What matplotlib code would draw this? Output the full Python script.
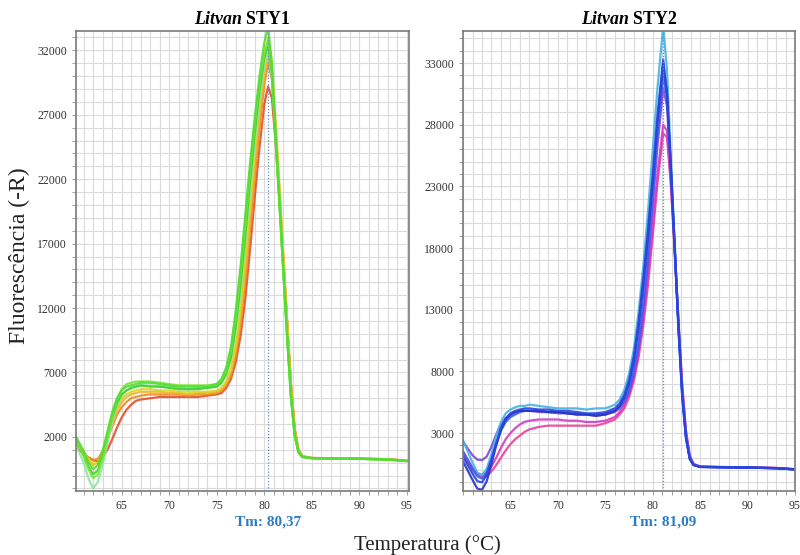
import matplotlib
matplotlib.use("Agg")
import matplotlib.pyplot as plt
from matplotlib.ticker import MultipleLocator, FixedLocator

plt.rcParams['font.family'] = ['Liberation Serif', 'DejaVu Serif']
plt.rcParams['mathtext.fontset'] = 'custom'
plt.rcParams['mathtext.bfit'] = 'Liberation Serif:italic:bold'
plt.rcParams['mathtext.it'] = 'Liberation Serif:italic'
plt.rcParams['mathtext.rm'] = 'Liberation Serif'

# ---- STY1 melt curves (temperature in C, fluorescence -R) ----
temps_sty1 = [60, 61, 61.5, 62, 62.5, 63, 63.5, 64, 64.5, 65, 65.5, 66, 66.5, 67, 68, 69, 70, 71, 72, 73,
              74, 75, 75.5, 76, 76.5, 77, 77.5, 78, 78.5, 79, 79.5, 80, 80.4, 80.8, 81.2, 81.6, 82, 82.4, 82.8, 83.2,
              83.6, 84, 85, 87, 90, 93, 95]

sty1_red = [1300, 700, 400, 200, 100, 400, 1000, 1800, 2700, 3500, 4100, 4500, 4800, 4900, 5000, 5100, 5100, 5100, 5100, 5100,
            5200, 5300, 5400, 5800, 6500, 7800, 9800, 12700, 16500, 20600, 24500, 27800, 29200, 28300, 24800, 20400, 15800, 11000, 6200, 2700,
            1000, 500, 370, 340, 310, 270, 150]
sty1_orange = [1600, 800, 400, 200, 300, 900, 1800, 2800, 3700, 4300, 4700, 5000, 5100, 5200, 5300, 5300, 5300, 5300, 5200, 5300,
               5300, 5400, 5600, 6000, 6800, 8300, 10700, 14000, 18000, 22200, 26000, 29300, 31000, 29800, 25800, 21000, 16000, 11000, 6000, 2500,
               900, 480, 360, 330, 310, 270, 150]
sty1_amber = [1800, 700, 100, -200, 0, 700, 1800, 3000, 4000, 4700, 5100, 5300, 5400, 5500, 5500, 5500, 5400, 5400, 5300, 5400,
              5400, 5500, 5700, 6200, 7100, 8800, 11400, 15000, 19000, 23200, 27000, 30100, 31600, 30000, 25800, 21000, 16000, 10900, 5900, 2400,
              900, 470, 360, 330, 300, 260, 140]
sty1_yellow = [1900, 900, 300, -100, 0, 800, 2000, 3300, 4300, 5000, 5300, 5500, 5600, 5700, 5700, 5600, 5600, 5500, 5500, 5500,
               5500, 5600, 5800, 6300, 7300, 9200, 12000, 15800, 20000, 24200, 28000, 31300, 33000, 31200, 26500, 21500, 16200, 11000, 6000, 2500,
               900, 480, 360, 330, 300, 260, 140]
sty1_pale = [1700, 0, -1200, -2000, -1500, -200, 1500, 3200, 4400, 5200, 5600, 5800, 5900, 6000, 6000, 5900, 5900, 5800, 5700, 5800,
             5800, 5900, 6200, 6800, 8000, 10200, 13200, 17000, 21000, 24800, 28200, 30800, 32100, 30000, 25000, 20000, 14800, 9800, 5200, 2100,
             800, 450, 350, 320, 300, 250, 130]
sty1_green = [2000, 600, -300, -900, -600, 500, 2000, 3500, 4600, 5300, 5600, 5800, 5900, 6000, 5900, 5900, 5800, 5700, 5700, 5700,
              5800, 5900, 6200, 6900, 8200, 10600, 13800, 17600, 21800, 25600, 28900, 31400, 32500, 30200, 25000, 20000, 14800, 9800, 5100, 2100,
              800, 450, 350, 320, 300, 240, 120]
sty1_lime = [2200, 500, -500, -1200, -900, 300, 1900, 3600, 4900, 5700, 6100, 6200, 6300, 6300, 6300, 6200, 6100, 6000, 6000, 6000,
             6000, 6100, 6400, 7200, 8700, 11300, 14600, 18500, 22600, 26300, 29500, 31800, 32800, 30400, 25200, 20200, 15000, 9900, 5200, 2100,
             800, 450, 350, 320, 300, 250, 120]
sty1_bright = [2300, 900, 0, -500, -200, 900, 2400, 3900, 5000, 5600, 5900, 6000, 6100, 6200, 6200, 6100, 6000, 5900, 5900, 5900,
               5900, 6100, 6500, 7400, 9000, 11800, 15200, 19200, 23200, 26800, 30000, 32600, 33800, 31000, 25500, 20500, 15200, 10000, 5300, 2200,
               800, 450, 350, 330, 300, 250, 130]

# ---- STY2 melt curves ----
temps_sty2 = [60, 61, 61.5, 62, 62.5, 63, 63.5, 64, 64.5, 65, 65.5, 66, 66.5, 67, 68, 69, 70, 71, 72, 73,
              74, 75, 76, 76.5, 77, 77.5, 78, 78.5, 79, 79.5, 80, 80.5, 81.1, 81.5, 81.9, 82.3, 82.7, 83.1, 83.5, 83.9,
              84.3, 85, 87, 90, 93, 95]

sty2_pink = [1200, 0, -400, -600, -500, -100, 400, 1000, 1600, 2100, 2500, 2800, 3100, 3300, 3500, 3600, 3600, 3600, 3600, 3600,
             3600, 3800, 4100, 4500, 5000, 5900, 7200, 9100, 11700, 15000, 19000, 23300, 27300, 27000, 23200, 17900, 12300, 7000, 3200, 1200,
             500, 290, 250, 220, 170, 70]
sty2_magenta = [1500, 200, -300, -400, -200, 300, 1000, 1800, 2500, 3000, 3400, 3700, 3900, 4000, 4100, 4100, 4100, 4000, 4000, 3900,
                3900, 4000, 4300, 4700, 5300, 6200, 7600, 9600, 12300, 15800, 19800, 24000, 28000, 27500, 23500, 18000, 12200, 6800, 3100, 1100,
                480, 280, 250, 220, 170, 70]
sty2_purple = [2300, 1200, 850, 800, 1100, 1900, 2900, 3700, 4200, 4500, 4700, 4800, 4800, 4800, 4700, 4700, 4600, 4600, 4500, 4500,
               4400, 4500, 4700, 5000, 5500, 6300, 7700, 9800, 12800, 16800, 21500, 26300, 31000, 29500, 24300, 18300, 12000, 6500, 2900, 1050,
               450, 270, 240, 210, 160, 60]
sty2_cyan = [2400, 600, -200, -400, 100, 1300, 2800, 3900, 4600, 4900, 5100, 5200, 5200, 5300, 5200, 5100, 5000, 5000, 5000, 4900,
             5000, 5000, 5300, 5700, 6500, 7800, 9800, 12800, 16500, 21000, 26000, 31000, 36000, 32500, 25500, 18500, 11800, 6200, 2700, 950,
             420, 260, 230, 200, 150, 60]
sty2_blue2 = [1500, 100, -500, -700, -200, 900, 2100, 3200, 3900, 4300, 4500, 4700, 4800, 4800, 4800, 4700, 4700, 4600, 4600, 4500,
              4500, 4600, 4800, 5100, 5600, 6500, 8000, 10300, 13500, 17500, 22200, 27200, 32000, 30200, 24800, 18500, 12000, 6400, 2800, 1000,
              450, 260, 230, 200, 150, 50]
sty2_blue3 = [700, -800, -1500, -1600, -900, 500, 2000, 3300, 4100, 4500, 4700, 4800, 4800, 4800, 4800, 4700, 4700, 4600, 4500, 4500,
              4400, 4500, 4800, 5200, 5900, 7000, 8800, 11500, 15000, 19000, 23500, 28300, 33000, 30600, 24700, 18200, 11700, 6100, 2600, 900,
              400, 250, 220, 200, 140, 50]
sty2_blue1 = [1100, -300, -900, -1000, -400, 800, 2200, 3400, 4200, 4600, 4800, 4900, 5000, 5000, 4900, 4900, 4800, 4800, 4700, 4600,
              4600, 4700, 5000, 5400, 6100, 7300, 9200, 12000, 15500, 19500, 24000, 28800, 33300, 30500, 24500, 18000, 11500, 6000, 2600, 900,
              400, 250, 230, 200, 150, 50]

sty1_curves = [(sty1_red, '#e4502a'), (sty1_orange, '#f08a22'), (sty1_amber, '#f2b22e'), (sty1_yellow, '#d9d522'),
               (sty1_pale, '#8fe6a8'), (sty1_green, '#3fcf2c'), (sty1_lime, '#7be43a'), (sty1_bright, '#52dc34')]
sty2_curves = [(sty2_pink, '#e8409a'), (sty2_magenta, '#d23cc4'), (sty2_purple, '#8246d6'), (sty2_cyan, '#45b4e2'),
               (sty2_blue2, '#3a62f0'), (sty2_blue3, '#2434c4'), (sty2_blue1, '#2c44e0')]

tm_values = [80.37, 81.09]
tm_labels = ['Tm: 80,37', 'Tm: 81,09']
titles = [r'$\mathbfit{Litvan}$ STY1', r'$\mathbfit{Litvan}$ STY2']
ylims = [(-2200, 33500), (-1700, 35600)]
ytick_sets = [[2000, 7000, 12000, 17000, 22000, 27000, 32000],
              [3000, 8000, 13000, 18000, 23000, 28000, 33000]]
xticks = [65, 70, 75, 80, 85, 90, 95]

fig = plt.figure(figsize=(8, 5.55), dpi=100)
ax1 = fig.add_axes([0.095, 0.1153, 0.416, 0.8288])
ax2 = fig.add_axes([0.5788, 0.1153, 0.415, 0.8288])

panels = [(ax1, temps_sty1, sty1_curves, (60.2, 95.2)), (ax2, temps_sty2, sty2_curves, (60.0, 95.0))]
for i, (ax, temps, curves, xl) in enumerate(panels):
    for vals, col in curves:
        ax.plot(temps, vals, color=col, lw=1.6, alpha=0.9, solid_joinstyle='round')
    ax.axvline(tm_values[i], color='#6a8cc8', lw=0.9, ls=(0, (1, 1.5)), zorder=3)
    ax.set_xlim(*xl)
    ax.set_ylim(*ylims[i])
    ax.xaxis.set_major_locator(FixedLocator(xticks))
    ax.yaxis.set_major_locator(FixedLocator(ytick_sets[i]))
    ax.xaxis.set_minor_locator(MultipleLocator(1))
    ax.yaxis.set_minor_locator(MultipleLocator(1000))
    ax.grid(True, which='both', color='#dadada', lw=0.8)
    ax.set_axisbelow(True)
    ax.tick_params(which='both', colors='#a0a0a0', labelcolor='#333333', labelsize=8.5, length=3, width=0.7)
    for sp in ax.spines.values():
        sp.set_color('#7a7a7a')
        sp.set_linewidth(1.2)
    ax.set_title(titles[i], fontsize=12.8, fontweight='bold', pad=5)
    ax.annotate(tm_labels[i], xy=(tm_values[i], 0), xycoords=('data', 'axes fraction'),
                xytext=(0, -31), textcoords='offset pixels', ha='center', va='center',
                fontsize=11, fontweight='bold', color='#2a7cc4')

fig.text(0.024, 0.54, 'Fluorescência (-R)', rotation=90, ha='center', va='center', fontsize=17, color='#222222')
fig.text(0.534, 0.018, 'Temperatura (°C)', ha='center', va='center', fontsize=15, color='#222222')

fig.savefig('out.png', dpi=100)
